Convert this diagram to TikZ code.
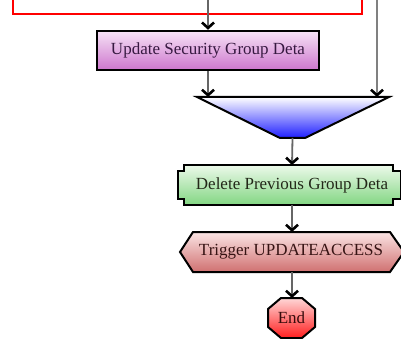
\documentclass[tikz,border=0pt]{standalone}
\usepackage{fontspec}
\setmainfont{Liberation Serif}
\usetikzlibrary{arrows.meta}
\begin{document}
\begin{tikzpicture}[x=1pt,y=-1pt,
  conn/.style={draw=black!60, line width=1.8pt, -{Straight Barb[length=5.5pt,width=12pt,line width=2.6pt,color=black]}},
  outline/.style={draw=black, line width=2pt},
  lbl/.style={font=\fontsize{17}{19}\selectfont, inner sep=0pt},
  every node/.style={lbl}]
\useasboundingbox (0,0) rectangle (401,339);

% red frame line from above
\draw[red, line width=2pt] (13,0) -- (13,14) -- (362,14) -- (362,0);

% box 1
\node[outline, line width=2.5pt, top color={rgb,255:red,246;green,226;blue,246}, bottom color={rgb,255:red,205;green,118;blue,205},
      minimum width=222pt, minimum height=39pt, text={rgb,255:red,55;green,25;blue,65}] (upd) at (208,50.5) {Update Security Group Deta};

% trapezoid (merge)
\path[outline, top color=white, bottom color={rgb,255:red,30;green,30;blue,255}]
  (197,97) -- (389,97) -- (305,138) -- (280,138) -- cycle;
\coordinate (trapL) at (208,97);
\coordinate (trapR) at (377,97);
\coordinate (trapB) at (292.5,138);

% delete box
\path[outline, top color={rgb,255:red,236;green,249;blue,234}, bottom color={rgb,255:red,130;green,214;blue,130}]
  (184,165) -- (393,165) -- (393,171) -- (401,171) -- (401,199) -- (393,199) -- (393,205)
  -- (184,205) -- (184,199) -- (178,199) -- (178,171) -- (184,171) -- cycle;
\node[text={rgb,255:red,35;green,40;blue,25}] (del) at (292,185) {Delete Previous Group Deta};
\coordinate (delT) at (292,165);
\coordinate (delB) at (292,205);

% trigger hexagon
\path[outline, top color={rgb,255:red,250;green,228;blue,228}, bottom color={rgb,255:red,208;green,112;blue,112}]
  (180,252) -- (193,232) -- (390,232) -- (404,252) -- (390,272) -- (193,272) -- cycle;
\node[text={rgb,255:red,55;green,20;blue,20}] (trig) at (291,252) {Trigger UPDATEACCESS};
\coordinate (trigT) at (292,232);
\coordinate (trigB) at (292,272);

% end octagon
\path[outline, top color={rgb,255:red,255;green,215;blue,215}, bottom color={rgb,255:red,255;green,30;blue,30}]
  (281,298) -- (302,298) -- (315,309) -- (315,327) -- (302,338) -- (281,338) -- (268,327) -- (268,309) -- cycle;
\node[text={rgb,255:red,55;green,12;blue,12}] (endn) at (291.5,318) {End};
\coordinate (endT) at (292,298);

% connectors
\coordinate (topA) at (208,0);
\coordinate (topB) at (377,0);
\draw[conn] (topA) -- (upd.north);
\draw[conn] (upd.south) -- (trapL);
\draw[conn, draw=black!50] (topB) -- (trapR);
\draw[conn] (trapB) -- (delT);
\draw[conn] (delB) -- (trigT);
\draw[conn] (trigB) -- (endT);
\end{tikzpicture}
\end{document}
